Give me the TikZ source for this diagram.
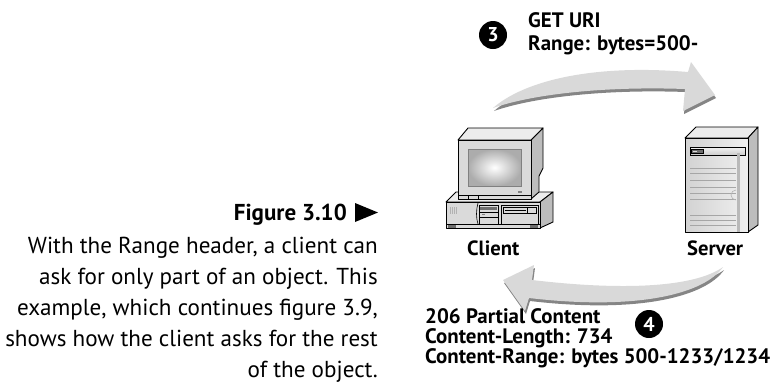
\documentclass[tikz,border=0pt]{standalone}
\usepackage{fontspec}
\setmainfont{PT Sans}
\definecolor{arrowfill}{HTML}{D9D9D9}
\definecolor{arrowshadow}{HTML}{858585}
\definecolor{caselight}{HTML}{ECECEC}
\definecolor{casemid}{HTML}{DADADA}
\definecolor{caseside}{HTML}{BDBDBD}
\definecolor{slotdark}{HTML}{6E6E6E}
% outline of the request arrow (client -> server)
\newcommand\reqarrowpath{(493,108) .. controls (525,80) and (595,64) .. (688,72)
  -- (691,62) -- (715,95) -- (683,111) -- (685,89)
  .. controls (600,86) and (530,95) .. (493,108) -- cycle}
% outline of the response arrow (server -> client)
\newcommand\resparrowpath{(723,267) .. controls (695,287) and (625,291) .. (532,280)
  -- (534,265) -- (503,280) -- (525,311) -- (529,298)
  .. controls (640,311) and (705,293) .. (723,267) -- cycle}
\begin{document}
\begin{tikzpicture}[x=1pt,y=-1pt,
  capt/.style={anchor=base east,inner sep=0pt,font=\fontsize{23.1}{26}\selectfont},
  capthead/.style={anchor=base east,inner sep=0pt,font=\bfseries\fontsize{23}{26}\selectfont},
  msgtop/.style={anchor=base west,inner sep=0pt,font=\bfseries\fontsize{20.9}{23}\selectfont},
  msgbot/.style={anchor=base west,inner sep=0pt,font=\bfseries\fontsize{20.9}{23}\selectfont},
  hostlbl/.style={anchor=base west,inner sep=0pt,font=\bfseries\fontsize{20.6}{23}\selectfont},
  stepnum/.style={circle,fill=black,minimum size=28pt,inner sep=0pt,text=white,
    font=\bfseries\fontsize{20}{20}\selectfont},
  hw/.style={draw=black,line width=0.9pt,line join=round},
  hwthin/.style={draw=black,line width=0.6pt},
  grill/.style={draw=gray!70,line width=0.8pt}
]
\useasboundingbox (0,0) rectangle (777,384);

% ---- caption ----
\node[capthead] (capfig) at (347,220) {Figure 3.10};
\fill (355,203) -- (378,212.5) -- (355,222) -- cycle;
\node[capt] (cap1) at (378,253) {With the Range header, a client can};
\node[capt] (cap2) at (378,284) {ask for only part of an object. This};
\node[capt] (cap3) at (378,315) {example, which continues figure 3.9,};
\node[capt] (cap4) at (378,346) {shows how the client asks for the rest};
\node[capt] (cap5) at (378,377) {of the object.};

% ---- curved block arrows ----
\fill[arrowshadow,shift={(1,3)}] \reqarrowpath;
\fill[arrowfill] \reqarrowpath;
\fill[arrowshadow,shift={(1,3)}] \resparrowpath;
\fill[arrowfill] \resparrowpath;

% ---- step 3 : request ----
\node[stepnum] (n3) at (493,35) {3};
\node[msgtop] (req1) at (528,27) {GET URI};
\node[msgtop] (req2) at (528,50) {Range: bytes=500-};

% ---- step 4 : response ----
\node[stepnum] (n4) at (649,324) {4};
\node[msgbot] (resp1) at (425,323) {206 Partial Content};
\node[msgbot] (resp2) at (425,343) {Content-Length: 734};
\node[msgbot] (resp3) at (425,363) {Content-Range: bytes 500-1233/1234};

% ---- client desktop computer ----
% system unit
\filldraw[hw,fill=caselight] (446,202) -- (456,192) -- (553,192) -- (540,202) -- cycle;
\filldraw[hw,fill=caseside] (540,202) -- (553,192) -- (553,222) -- (540,228) -- cycle;
\filldraw[hw,fill=casemid] (446,202) rectangle (540,228);
\draw[hwthin] (446,224) -- (540,224);
\fill[slotdark] (448,224.5) rectangle (456,227.5);
\fill[slotdark] (530,224.5) rectangle (538,227.5);
% vent
\fill[gray!60] (450,207) rectangle (457,214);
\foreach \vx in {451,453,455} \draw[gray!30,line width=0.5pt] (\vx,207) -- (\vx,214);
% middle drive bays
\draw[hwthin] (478,203) .. controls (476,210) and (476,218) .. (478,224);
\filldraw[hwthin,fill=casemid] (479,205) rectangle (498,224);
\fill[slotdark] (480,207) rectangle (497,210);
\draw[hwthin] (479,212) -- (498,212);
\draw[hwthin] (479,217) -- (498,217);
\draw[gray,line width=0.4pt] (482,214.5) -- (485,214.5);
% floppy bay
\filldraw[hwthin,fill=casemid] (501,205) rectangle (538,224);
\draw[hwthin] (503,207) rectangle (536,213);
\draw[black,line width=1pt] (505,210) -- (526,210);
\draw[hwthin] (527,207) -- (527,213);
% monitor
\filldraw[hw,fill=caseside] (531,140) -- (543,128) -- (543,168) -- (539,176) -- (539,192) -- (531,199) -- cycle;
\filldraw[hw,fill=caselight] (458,140) -- (468,128) -- (543,128) -- (531,140) -- cycle;
\filldraw[hw,fill=casemid] (458,140) rectangle (531,199);
\shade[inner color=white,outer color=gray!65] (468,149) rectangle (521,186);
\draw[hwthin,draw=gray] (468,149) rectangle (521,186);
\draw[hwthin] (458,195) -- (531,195);
\draw[hwthin] (468,195) -- (468,199);
\draw[hwthin] (478,195) -- (478,199);
\fill[gray] (518,191) rectangle (522,192.5);
\node[hostlbl] (client) at (467,255) {Client};

% ---- server tower ----
\filldraw[hw,fill=caselight] (685,138) -- (696,127) -- (758,127) -- (748,138) -- cycle;
\filldraw[hw,fill=caseside] (748,138) -- (758,127) -- (758,225) -- (748,232) -- cycle;
\shade[left color=gray!35,right color=gray!12] (685,138) rectangle (748,232);
\draw[hw] (685,138) rectangle (748,232);
% drive bar
\shade[top color=gray!10,bottom color=gray!40] (690,147) rectangle (745,155);
\draw[hwthin] (690,147) rectangle (745,155);
\filldraw[hwthin,fill=slotdark] (691,149) rectangle (703,153.5);
\fill[gray!25] (693,150.5) rectangle (697,152);
% vent lines
\foreach \ly in {168,173,180,187,193,199,215,220,225}
  \draw[grill] (690,\ly) -- (736,\ly);
% vertical rail with knob
\fill[gray!55] (737,153) rectangle (740,232);
\draw[gray!60,line width=0.6pt] (736,200) arc[start angle=90,end angle=270,radius=5];
\node[hostlbl] (server) at (687,255) {Server};
\end{tikzpicture}
\end{document}
